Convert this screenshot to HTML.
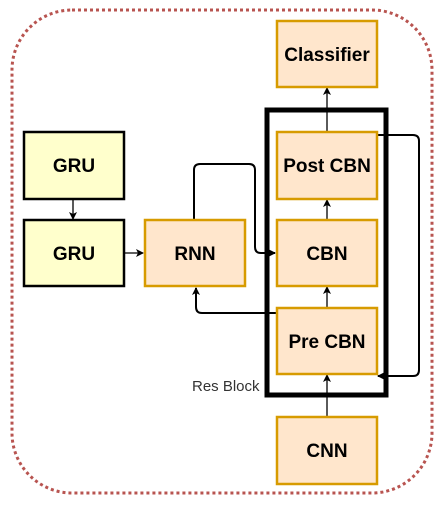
<!DOCTYPE html>
<html><head><style>
body{margin:0;background:#fff;width:441px;height:500px;overflow:hidden}
text{font-family:"Liberation Sans",sans-serif}
</style></head><body>
<svg width="441" height="500" viewBox="0 0 441 500">
<defs><marker id="a" markerWidth="8" markerHeight="8" refX="7" refY="4" orient="auto" markerUnits="userSpaceOnUse"><path d="M0,0 L8,4 L0,8 L2,4z" fill="#000"/></marker></defs>
<rect x="12" y="10" width="420" height="483" rx="60" fill="none" stroke="#b85450" stroke-width="3" stroke-dasharray="3,3"/>
<g stroke="#000" stroke-width="1.3" fill="none">
<path d="M327 132 V88" marker-end="url(#a)"/>
<path d="M327 220 V200" marker-end="url(#a)"/>
<path d="M327 308 V287" marker-end="url(#a)"/>
<path d="M327 417 V375" marker-end="url(#a)"/>
<path d="M73 199 V219" marker-end="url(#a)"/>
<path d="M124 253 H143" marker-end="url(#a)"/>
<path d="M194 220 V170 Q194 164 200 164 H249 Q255 164 255 170 V247 Q255 253 261 253 H275" stroke-width="2" marker-end="url(#a)"/>
<path d="M276 313 H202 Q196 313 196 307 V288" stroke-width="2" marker-end="url(#a)"/>
<path d="M377 135 H413 Q419 135 419 141 V370 Q419 376 413 376 H378" stroke-width="2" marker-end="url(#a)"/>
</g>
<rect x="267" y="110" width="119" height="285" fill="none" stroke="#000" stroke-width="5"/>
<g stroke="#d79b00" stroke-width="2.5" fill="#ffe6cc">
<rect x="277" y="21" width="100" height="66"/>
<rect x="277" y="132" width="100" height="67"/>
<rect x="277" y="220" width="100" height="66"/>
<rect x="277" y="308" width="100" height="66"/>
<rect x="277" y="417" width="100" height="67"/>
<rect x="145" y="220" width="100" height="66"/>
</g>
<g stroke="#000" stroke-width="2.5" fill="#ffffcc">
<rect x="24" y="132" width="100" height="67"/>
<rect x="24" y="220" width="100" height="66"/>
</g>
<g font-weight="bold" font-size="19" text-anchor="middle" fill="#000">
<text x="327" y="61">Classifier</text>
<text x="327" y="172">Post CBN</text>
<text x="327" y="260">CBN</text>
<text x="327" y="348">Pre CBN</text>
<text x="327" y="457">CNN</text>
<text x="195" y="260">RNN</text>
<text x="74" y="172">GRU</text>
<text x="74" y="260">GRU</text>
</g>
<text x="192" y="391" font-size="15" fill="#333">Res Block</text>
</svg>
</body></html>
